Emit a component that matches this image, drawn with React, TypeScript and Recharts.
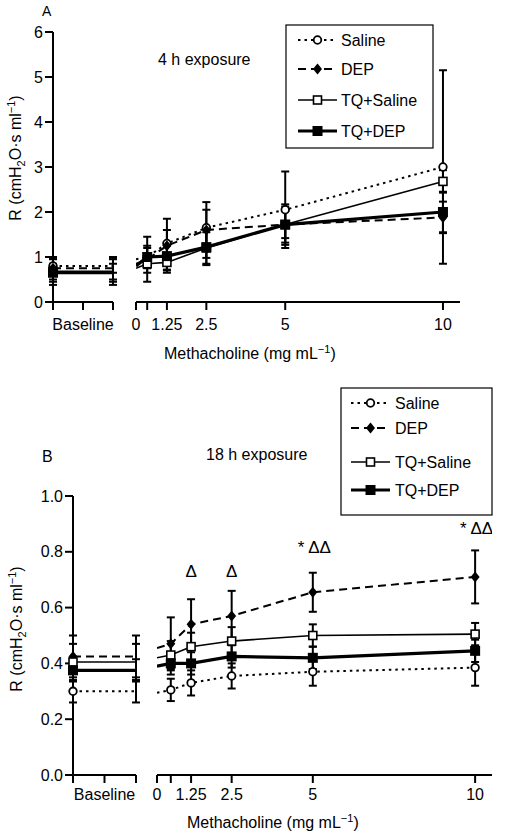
import React from 'react';
import { ComposedChart, Line, XAxis, YAxis, ErrorBar, Scatter } from 'recharts';

const FONT = '"Liberation Sans", Arial, Helvetica, sans-serif';

const seriesLabels = ['Saline', 'DEP', 'TQ+Saline', 'TQ+DEP'];

// ---------- shared ticks ----------
const baselinePositions = [0, 1];
const baselineTicks = [0, 0.5, 1];
const baselineTickLabels = ['', 'Baseline', ''];
const doseTickLabels = ['0', '', '1.25', '2.5', '5', '10'];

// ---------- Panel A : 4 h exposure ----------
const baselineA = [0.8, 0.75, 0.68, 0.65];
const baselineErrA = [0.15, 0.25, 0.3, 0.2];
const dosesA = [0.27, 0.625, 1.25, 2.5, 5, 10]; // first = "0" (axis start)
const salineA = [0.95, 1.0, 1.3, 1.65, 2.05, 3.0];
const salineErrA = [null, 0.2, 0.3, 0.4, 0.85, 2.15];
const depA = [0.85, 0.95, 1.25, 1.6, 1.72, 1.88];
const depErrA = [null, 0.5, 0.6, 0.62, 0.45, 0.35];
const tqSalineA = [0.75, 0.85, 0.88, 1.2, 1.72, 2.68];
const tqSalineErrA = [null, 0.2, 0.18, 0.35, 0.3, 0.25];
const tqDepA = [0.8, 1.0, 1.02, 1.22, 1.72, 2.0];
const tqDepErrA = [null, 0.25, 0.3, 0.4, 0.4, 0.45];
const yTicksA = [0, 1, 2, 3, 4, 5, 6];

// ---------- Panel B : 18 h exposure ----------
const baselineB = [0.3, 0.425, 0.405, 0.375];
const baselineErrB = [0.04, 0.075, 0.065, 0.04];
const dosesB = [0.2, 0.625, 1.25, 2.5, 5, 10];
const salineB = [0.295, 0.305, 0.33, 0.355, 0.37, 0.385];
const salineErrB = [null, 0.04, 0.045, 0.045, 0.05, 0.065];
const depB = [0.455, 0.47, 0.54, 0.57, 0.655, 0.71];
const depErrB = [null, 0.095, 0.09, 0.09, 0.07, 0.095];
const tqSalineB = [0.42, 0.43, 0.46, 0.48, 0.5, 0.505];
const tqSalineErrB = [null, 0.05, 0.05, 0.05, 0.04, 0.04];
const tqDepB = [0.39, 0.4, 0.4, 0.425, 0.42, 0.445];
const tqDepErrB = [null, 0.04, 0.04, 0.04, 0.04, 0.04];
const yTicksB = [0, 0.2, 0.4, 0.6, 0.8, 1.0];
const annDosesB = [1.25, 2.5, 5, 10];
const annValuesB = [0.73, 0.73, 0.815, 0.885];
const annTextsB = ['Δ', 'Δ', '* ΔΔ', '* ΔΔ'];

// ---------- builders ----------
const keys = ['s', 'd', 'ts', 'td'];
function buildRows(xs: number[], vals: any[][], errs: any[][]) {
  return xs.map((x, i) => {
    const r: any = { x };
    keys.forEach((k, j) => {
      r[k] = vals[j][i];
      r[k + 'E'] = errs[j][i];
    });
    return r;
  });
}
function buildBaseRows(base: number[], err: number[]) {
  return baselinePositions.map((x) => {
    const r: any = { x };
    keys.forEach((k, j) => {
      r[k] = base[j];
      r[k + 'E'] = err[j];
    });
    return r;
  });
}

const rowsA = buildRows(dosesA, [salineA, depA, tqSalineA, tqDepA], [salineErrA, depErrA, tqSalineErrA, tqDepErrA]);
const baseRowsA = buildBaseRows(baselineA, baselineErrA);
const rowsB = buildRows(dosesB, [salineB, depB, tqSalineB, tqDepB], [salineErrB, depErrB, tqSalineErrB, tqDepErrB]);
const baseRowsB = buildBaseRows(baselineB, baselineErrB);
const annRowsB = annDosesB.map((x, i) => ({ x, y: annValuesB[i], text: annTextsB[i] }));

// ---------- styles ----------
const seriesStyle: any = {
  s: { dash: '2.5 4', width: 2, marker: 'circle' },
  d: { dash: '8 5', width: 2, marker: 'diamond' },
  ts: { dash: undefined, width: 1.6, marker: 'openSquare' },
  td: { dash: undefined, width: 3.2, marker: 'filledSquare' },
};

function Marker({ kind, cx, cy }: any) {
  switch (kind) {
    case 'circle':
      return <circle cx={cx} cy={cy} r={3.8} fill="#fff" stroke="#000" strokeWidth={1.8} />;
    case 'diamond':
      return <path d={`M${cx},${cy - 5.5}L${cx + 4.5},${cy}L${cx},${cy + 5.5}L${cx - 4.5},${cy}Z`} fill="#000" />;
    case 'openSquare':
      return <rect x={cx - 4} y={cy - 4} width={8} height={8} fill="#fff" stroke="#000" strokeWidth={1.6} />;
    default:
      return <rect x={cx - 5} y={cy - 5} width={10} height={10} fill="#000" />;
  }
}

function makeDot(kind: string, showIndex: (i: number) => boolean) {
  return (props: any) => {
    const { cx, cy, index } = props;
    if (cx == null || cy == null || !showIndex(index)) return <g key={`n-${kind}-${index}`} />;
    return (
      <g key={`m-${kind}-${index}`}>
        <Marker kind={kind} cx={cx} cy={cy} />
      </g>
    );
  };
}

const axisLine = { stroke: '#000', strokeWidth: 2 };
const tickLine = { stroke: '#000', strokeWidth: 2 };
const tickStyle = { fill: '#000', fontSize: 16, fontFamily: FONT };

function renderSeries(showIndex: (i: number) => boolean) {
  return keys.map((k) => {
    const st = seriesStyle[k];
    return (
      <Line
        key={k}
        type="linear"
        dataKey={k}
        stroke="#000"
        strokeWidth={st.width}
        strokeDasharray={st.dash}
        dot={makeDot(st.marker, showIndex)}
        activeDot={false}
        isAnimationActive={false}
        legendType="none"
      >
        <ErrorBar dataKey={k + 'E'} width={4} stroke="#000" strokeWidth={2} direction="y" />
      </Line>
    );
  });
}

function AnnShape(props: any) {
  const { cx, cy, payload } = props;
  if (cx == null || cy == null) return <g />;
  const multi = String(payload.text).length > 1;
  return (
    <text
      x={multi ? cx - 15 : cx}
      y={cy}
      textAnchor={multi ? 'start' : 'middle'}
      dominantBaseline="central"
      fontSize={17}
      fontFamily={FONT}
      fill="#000"
    >
      {payload.text}
    </text>
  );
}

function BaselineChart({ left, top, width, height, marginTop, marginRight, yAxisWidth, xAxisHeight, rows, yDomain, yTicks, yFmt, tickMargin }: any) {
  return (
    <div style={{ position: 'absolute', left, top }}>
      <ComposedChart width={width} height={height} data={rows} margin={{ top: marginTop, right: marginRight, bottom: 0, left: 0 }}>
        <XAxis
          type="number"
          dataKey="x"
          domain={[0, 1]}
          ticks={baselineTicks}
          tickFormatter={(v: number) => baselineTickLabels[baselineTicks.indexOf(v)] ?? ''}
          axisLine={axisLine}
          tickLine={tickLine}
          tickSize={8}
          tickMargin={tickMargin}
          tick={tickStyle}
          height={xAxisHeight}
          interval={0}
        />
        <YAxis
          type="number"
          domain={yDomain}
          ticks={yTicks}
          tickFormatter={yFmt}
          axisLine={axisLine}
          tickLine={tickLine}
          tickSize={8}
          tickMargin={2}
          tick={tickStyle}
          width={yAxisWidth}
          interval={0}
        />
        {renderSeries((i) => i === 0)}
      </ComposedChart>
    </div>
  );
}

function MethChart({ left, top, width, height, marginTop, marginLeft, marginRight, xAxisHeight, rows, yDomain, xDomain, doseTicks, tickMargin, ann }: any) {
  return (
    <div style={{ position: 'absolute', left, top }}>
      <ComposedChart width={width} height={height} data={rows} margin={{ top: marginTop, right: marginRight, bottom: 0, left: marginLeft }}>
        <XAxis
          type="number"
          dataKey="x"
          domain={xDomain}
          allowDataOverflow
          ticks={doseTicks}
          tickFormatter={(v: number) => doseTickLabels[doseTicks.indexOf(v)] ?? ''}
          axisLine={axisLine}
          tickLine={tickLine}
          tickSize={8}
          tickMargin={tickMargin}
          tick={tickStyle}
          height={xAxisHeight}
          interval={0}
        />
        <YAxis type="number" domain={yDomain} hide allowDataOverflow />
        {renderSeries((i) => i > 0)}
        {ann ? (
          <Scatter data={ann} dataKey="y" shape={AnnShape} isAnimationActive={false} legendType="none" />
        ) : null}
      </ComposedChart>
    </div>
  );
}

function LegendBox({ x, y, w, h, rowsY, lineX1, lineX2, textX }: any) {
  const order = ['s', 'd', 'ts', 'td'];
  return (
    <g>
      <rect x={x} y={y} width={w} height={h} fill="#fff" stroke="#000" strokeWidth={1.2} />
      {order.map((k, i) => {
        const st = seriesStyle[k];
        const yy = rowsY[i];
        const mid = (lineX1 + lineX2) / 2;
        return (
          <g key={k}>
            <line x1={lineX1} y1={yy} x2={lineX2} y2={yy} stroke="#000" strokeWidth={st.width} strokeDasharray={st.dash} />
            <Marker kind={st.marker} cx={mid} cy={yy} />
            <text x={textX} y={yy + 5.8} fontSize={16} fontFamily={FONT} fill="#000">
              {seriesLabels[i]}
            </text>
          </g>
        );
      })}
    </g>
  );
}

function YLabel({ x, y }: any) {
  return (
    <text transform={`translate(${x},${y}) rotate(-90)`} textAnchor="middle" fontSize={16} fontFamily={FONT} fill="#000">
      R (cmH
      <tspan fontSize={11} dy={4}>2</tspan>
      <tspan dy={-4}>O·s ml</tspan>
      <tspan fontSize={11} dy={-6}>−1</tspan>
      <tspan dy={6}>)</tspan>
    </text>
  );
}

function XLabel({ x, y }: any) {
  return (
    <text x={x} y={y} fontSize={16} fontFamily={FONT} fill="#000">
      Methacholine (mg mL
      <tspan fontSize={11} dy={-6}>−1</tspan>
      <tspan dy={6}>)</tspan>
    </text>
  );
}

export default function App() {
  const fmtA = (v: number) => String(v);
  const fmtB = (v: number) => v.toFixed(1);
  const xDomainA: [number, number] = [dosesA[0], 10.54];
  const xDomainB: [number, number] = [dosesB[0], 10.52];
  return (
    <div style={{ position: 'absolute', left: 0, top: 0, width: 505, height: 839, background: '#fff', fontFamily: FONT }}>
      {/* Panel A */}
      <BaselineChart
        left={0}
        top={0}
        width={120}
        height={340}
        marginTop={32}
        marginRight={7}
        yAxisWidth={53}
        xAxisHeight={38}
        rows={baseRowsA}
        yDomain={[0, 6]}
        yTicks={yTicksA}
        yFmt={fmtA}
        tickMargin={9}
      />
      <MethChart
        left={128}
        top={0}
        width={345}
        height={340}
        marginTop={32}
        marginLeft={8}
        marginRight={13}
        xAxisHeight={38}
        rows={rowsA}
        yDomain={[0, 6]}
        xDomain={xDomainA}
        doseTicks={dosesA}
        tickMargin={9}
      />
      {/* Panel B */}
      <BaselineChart
        left={0}
        top={480}
        width={145}
        height={325}
        marginTop={16}
        marginRight={9}
        yAxisWidth={73}
        xAxisHeight={30}
        rows={baseRowsB}
        yDomain={[0, 1]}
        yTicks={yTicksB}
        yFmt={fmtB}
        tickMargin={6}
      />
      <MethChart
        left={150}
        top={480}
        width={350}
        height={325}
        marginTop={16}
        marginLeft={7}
        marginRight={8}
        xAxisHeight={30}
        rows={rowsB}
        yDomain={[0, 1]}
        xDomain={xDomainB}
        doseTicks={dosesB}
        tickMargin={6}
        ann={annRowsB}
      />
      <svg width={505} height={839} style={{ position: 'absolute', left: 0, top: 0, pointerEvents: 'none' }}>
        <text x={42} y={16} fontSize={14} fontFamily={FONT} fill="#000">A</text>
        <text x={158} y={64.5} fontSize={16} fontFamily={FONT} fill="#000">4 h exposure</text>
        <YLabel x={21} y={158} />
        <XLabel x={164} y={359} />
        <LegendBox x={286} y={25} w={147} h={123} rowsY={[40, 69, 100, 131]} lineX1={298} lineX2={337} textX={341} />

        <text x={42} y={462} fontSize={16} fontFamily={FONT} fill="#000">B</text>
        <text x={206} y={460} fontSize={16} fontFamily={FONT} fill="#000">18 h exposure</text>
        <YLabel x={22} y={629} />
        <XLabel x={187} y={828} />
        <LegendBox x={341} y={388} w={151} h={127} rowsY={[403, 428, 462, 490]} lineX1={351} lineX2={390} textX={395} />
      </svg>
    </div>
  );
}
